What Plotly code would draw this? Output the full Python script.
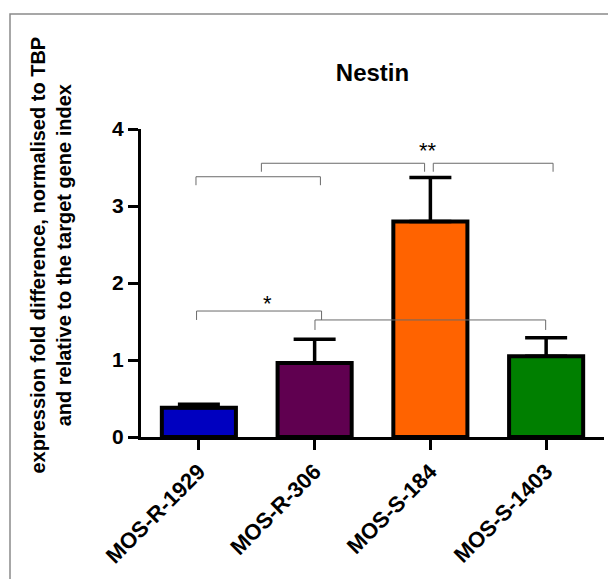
import plotly.graph_objects as go

# Nestin expression per cell line (mean fold difference and upper SEM)
categories = ["MOS-R-1929", "MOS-R-306", "MOS-S-184", "MOS-S-1403"]
values = [0.38, 0.96, 2.80, 1.05]
errors = [0.045, 0.31, 0.57, 0.24]
bar_colors = ["#0000C0", "#600050", "#FF6300", "#007F00"]

y_ticks = [0, 1, 2, 3, 4]
# leading non-breaking spaces lift the centred title lines a little
pad = "&nbsp;" * 10
y_title = (pad + "expression fold difference, normalised to TBP<br>"
           + pad + "and relative to the target gene index")

# significance brackets: (left index, right index, bar height, leg end)
brackets = [
    (-0.025, 1.05, 3.38, 3.27),
    (0.54, 1.95, 3.555, 3.445),
    (2.025, 3.06, 3.555, 3.445),
    (-0.02, 1.06, 1.636, 1.52),
    (1.003, 2.996, 1.52, 1.39),
]
# significance marks: (text, x index, y)
marks = [("**", 1.98, 3.72), ("*", 0.59, 1.74)]

FONT = "Liberation Sans, Arial, sans-serif"

fig = go.Figure()
fig.add_trace(go.Bar(
    x=categories,
    y=values,
    width=0.64,
    marker=dict(color=bar_colors, line=dict(color="black", width=4)),
    error_y=dict(type="data", array=errors, arrayminus=[0] * len(errors),
                 symmetric=False, color="black", thickness=3.5, width=21),
    showlegend=False,
))

shapes = []
for x0, x1, yb, yl in brackets:
    line = dict(color="#6a6a6a", width=1)
    shapes.append(dict(type="line", xref="x", yref="y", x0=x0, x1=x1, y0=yb, y1=yb, line=line))
    shapes.append(dict(type="line", xref="x", yref="y", x0=x0, x1=x0, y0=yb, y1=yl, line=line))
    shapes.append(dict(type="line", xref="x", yref="y", x0=x1, x1=x1, y0=yb, y1=yl, line=line))

# outer frame around the graph
L, R, T, B = 141, 4, 129, 142
W, H = 608, 579
pw, ph = W - L - R, H - T - B
shapes.append(dict(type="rect", xref="paper", yref="paper", layer="below",
                   x0=(10 - L) / pw, x1=(W + 20 - L) / pw,
                   y0=(H - B - (H + 20)) / ph, y1=(H - B - 14) / ph,
                   line=dict(color="#8a8a8a", width=1.5), fillcolor="rgba(0,0,0,0)"))

annotations = [
    dict(text=t, x=x, y=y, xref="x", yref="y", showarrow=False,
         font=dict(family=FONT, size=22, color="black"))
    for t, x, y in marks
]

fig.update_layout(
    width=W, height=H,
    margin=dict(l=L, r=R, t=T, b=B, pad=0),
    paper_bgcolor="white", plot_bgcolor="white",
    title=dict(text="Nestin", x=0.5, xref="paper", xanchor="center",
               y=1 - 73 / H, yref="container", yanchor="middle",
               font=dict(family=FONT, size=24, color="black", weight="bold")),
    xaxis=dict(range=[-0.5, 3.5], showline=True, linewidth=3, linecolor="black",
               ticks="outside", ticklen=10, tickwidth=3, tickcolor="black",
               tickangle=-45, showgrid=False, zeroline=False,
               tickfont=dict(family=FONT, size=22, color="black", weight="bold")),
    yaxis=dict(range=[0, 4], tickvals=y_ticks, showline=True, linewidth=3,
               linecolor="black", ticks="outside", ticklen=10, tickwidth=3,
               tickcolor="black", showgrid=False, zeroline=False,
               tickfont=dict(family=FONT, size=21, color="black", weight="bold"),
               title=dict(text=y_title, standoff=36,
                          font=dict(family=FONT, size=20, color="black", weight="bold"))),
    shapes=shapes,
    annotations=annotations,
)

fig.write_html("out.html")
